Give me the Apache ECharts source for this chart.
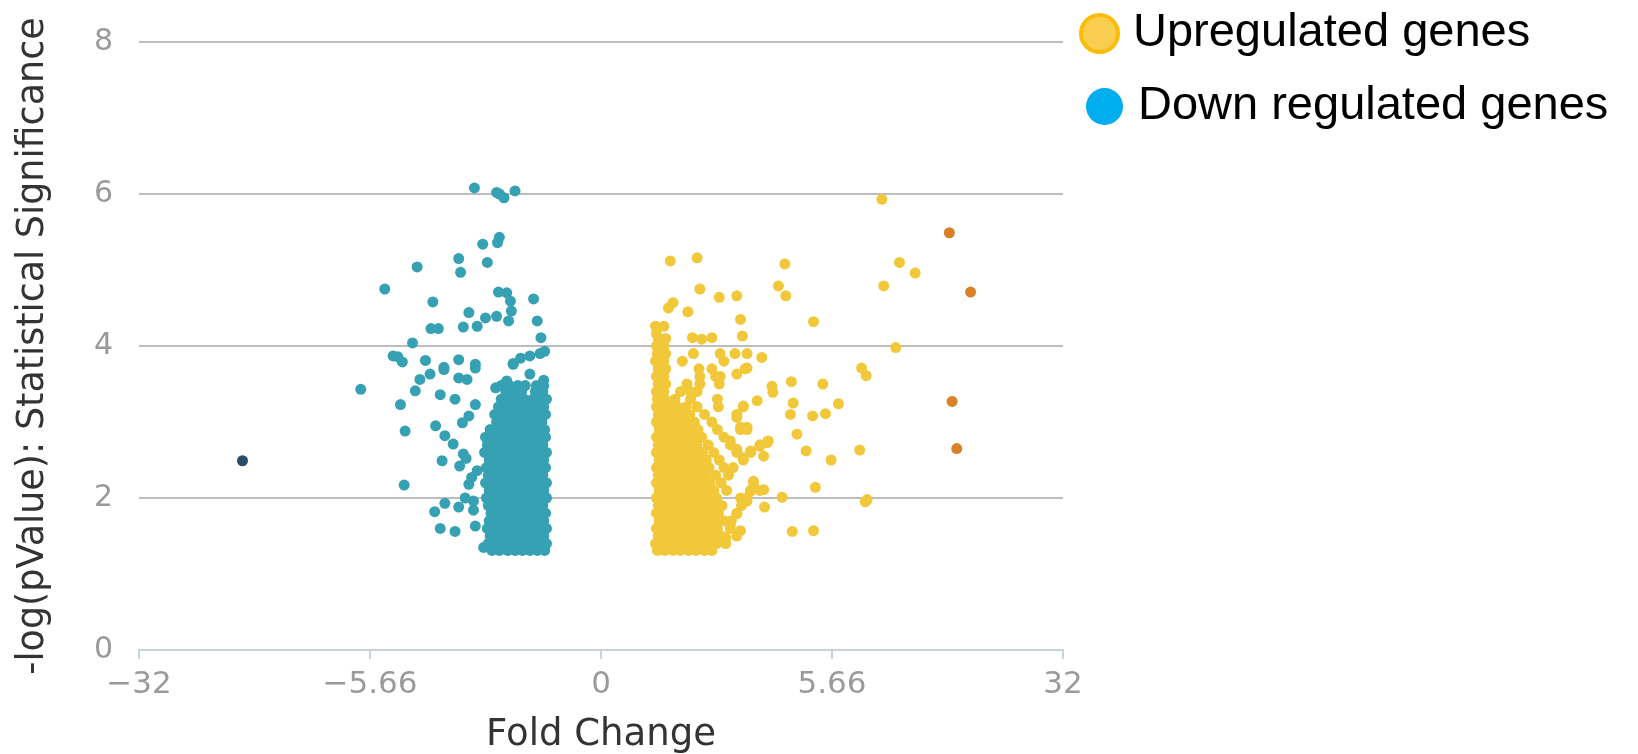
<!DOCTYPE html>
<html>
<head>
<meta charset="utf-8">
<script src="https://cdn.jsdelivr.net/npm/echarts@6/dist/echarts.min.js"></script>
<style>
  html, body { margin: 0; padding: 0; background: #ffffff; }
  #chart { width: 1638px; height: 754px; }
</style>
</head>
<body>
<div id="chart"></div>
<script>
// Volcano plot: x = log2 fold change, y = -log10(p-value).

// Tick positions (log2 units) and their fold-change labels
const foldTicks = [-5, -2.5, 0, 2.5, 5];
const foldTickLabels = ['\u221232', '\u22125.66', '0', '5.66', '32'];
const sigTicks = [0, 2, 4, 6, 8];

// Dense core of down-regulated genes, one row per significance level: [y, [x, ...]]
const downCoreRows = [
  [1.31, [-1.18, -1.10, -1.01, -0.93, -0.85, -0.77, -0.69, -0.61]],
  [1.40, [-1.22, -1.14, -1.05, -0.97, -0.89, -0.80, -0.72, -0.64, -0.59]],
  [1.50, [-1.20, -1.11, -1.03, -0.94, -0.86, -0.78, -0.70, -0.62]],
  [1.60, [-1.23, -1.15, -1.07, -0.98, -0.90, -0.81, -0.73, -0.65, -0.59]],
  [1.70, [-1.21, -1.12, -1.04, -0.95, -0.87, -0.79, -0.70, -0.62]],
  [1.80, [-1.19, -1.10, -1.02, -0.93, -0.85, -0.76, -0.68, -0.60]],
  [1.90, [-1.22, -1.14, -1.05, -0.97, -0.88, -0.80, -0.72, -0.63]],
  [2.00, [-1.24, -1.16, -1.07, -0.99, -0.90, -0.82, -0.74, -0.66, -0.59]],
  [2.10, [-1.21, -1.12, -1.04, -0.95, -0.87, -0.78, -0.70, -0.62]],
  [2.20, [-1.25, -1.17, -1.09, -1.00, -0.92, -0.83, -0.75, -0.67, -0.59]],
  [2.30, [-1.22, -1.13, -1.05, -0.96, -0.88, -0.80, -0.71, -0.63]],
  [2.40, [-1.24, -1.16, -1.08, -0.99, -0.91, -0.82, -0.74, -0.66, -0.60]],
  [2.50, [-1.21, -1.13, -1.04, -0.96, -0.87, -0.79, -0.70, -0.62]],
  [2.60, [-1.26, -1.17, -1.09, -1.00, -0.92, -0.84, -0.75, -0.67, -0.59]],
  [2.70, [-1.23, -1.14, -1.06, -0.97, -0.89, -0.80, -0.72, -0.63]],
  [2.80, [-1.25, -1.16, -1.08, -0.99, -0.91, -0.82, -0.74, -0.66, -0.60]],
  [2.90, [-1.20, -1.12, -1.03, -0.95, -0.86, -0.78, -0.69, -0.61]],
  [3.00, [-1.13, -1.05, -0.96, -0.88, -0.79, -0.71, -0.64]],
  [3.10, [-1.15, -1.07, -0.98, -0.90, -0.81, -0.73, -0.66, -0.60]],
  [3.20, [-1.11, -1.02, -0.94, -0.85, -0.77, -0.69, -0.62]],
  [3.30, [-1.08, -0.99, -0.91, -0.83, -0.74, -0.65, -0.59]],
  [3.40, [-1.03, -0.95, -0.86, -0.71, -0.63]],
  [3.48, [-1.08, -0.99, -0.90, -0.82, -0.70, -0.62]]
];

// Scattered down-regulated genes: [log2 FC, -log10 p]
const downSpread = [
  [-1.37, 6.08], [-1.13, 6.02], [-1.10, 6.00], [-1.05, 5.95], [-0.93, 6.04],
  [-1.10, 5.43], [-1.12, 5.36], [-1.28, 5.34], [-1.54, 5.15], [-1.52, 4.97],
  [-1.23, 5.10], [-1.99, 5.04], [-2.34, 4.75], [-1.82, 4.58],
  [-1.11, 4.71], [-1.02, 4.70], [-0.98, 4.59], [-0.97, 4.46], [-1.00, 4.33],
  [-1.13, 4.39], [-1.25, 4.37], [-1.43, 4.44], [-1.34, 4.26], [-1.49, 4.25],
  [-1.84, 4.23], [-1.76, 4.23], [-0.73, 4.62], [-0.69, 4.33], [-0.65, 4.11],
  [-2.04, 4.04], [-0.61, 3.93], [-2.25, 3.87], [-2.20, 3.86], [-2.15, 3.79],
  [-1.90, 3.81], [-1.54, 3.82], [-1.36, 3.76], [-1.70, 3.72], [-0.95, 3.77],
  [-0.87, 3.84], [-0.77, 3.87], [-0.66, 3.90],
  [-2.60, 3.43], [-2.17, 3.23], [-2.12, 2.88], [-2.13, 2.17], [-2.01, 3.41],
  [-1.96, 3.56], [-1.85, 3.63], [-1.74, 3.36], [-1.58, 3.30], [-1.70, 3.69],
  [-1.54, 3.58], [-1.45, 3.56], [-1.36, 3.71], [-1.36, 3.23], [-1.43, 3.08],
  [-1.50, 2.99], [-1.79, 2.95], [-1.69, 2.82], [-1.60, 2.71], [-1.49, 2.58],
  [-1.46, 2.52], [-1.72, 2.49], [-1.53, 2.42], [-1.34, 2.36], [-1.40, 2.27],
  [-1.43, 2.18], [-1.47, 2.00], [-1.38, 1.96], [-1.69, 1.93], [-1.80, 1.82],
  [-1.54, 1.88], [-1.38, 1.84], [-1.74, 1.60], [-1.58, 1.56], [-1.36, 1.63],
  [-1.27, 1.35], [-0.62, 3.55], [-1.14, 3.45], [-1.02, 3.54], [-0.95, 3.76],
  [-0.77, 3.63]
];

// Strongest down-regulated gene
const downExtreme = [[-3.88, 2.49]];

// Dense core of up-regulated genes, one row per significance level: [y, [x, ...]]
const upCoreRows = [
  [1.31, [0.61, 0.69, 0.78, 0.86, 0.95, 1.03, 1.12, 1.20]],
  [1.40, [0.59, 0.65, 0.74, 0.82, 0.91, 0.99, 1.08, 1.16, 1.25, 1.35]],
  [1.50, [0.62, 0.70, 0.79, 0.87, 0.96, 1.04, 1.13, 1.21, 1.30, 1.47]],
  [1.60, [0.60, 0.67, 0.75, 0.84, 0.92, 1.01, 1.09, 1.18, 1.26, 1.40]],
  [1.70, [0.63, 0.71, 0.80, 0.88, 0.97, 1.05, 1.14, 1.22, 1.33, 1.41]],
  [1.80, [0.60, 0.67, 0.76, 0.84, 0.93, 1.01, 1.10, 1.18, 1.27, 1.47]],
  [1.90, [0.62, 0.70, 0.79, 0.87, 0.96, 1.04, 1.13, 1.21, 1.31, 1.52]],
  [2.00, [0.60, 0.66, 0.75, 0.83, 0.92, 1.00, 1.09, 1.17, 1.25, 1.58]],
  [2.10, [0.63, 0.71, 0.80, 0.88, 0.97, 1.05, 1.14, 1.22, 1.36, 1.62, 1.72]],
  [2.20, [0.60, 0.67, 0.76, 0.84, 0.93, 1.01, 1.10, 1.18, 1.30, 1.65]],
  [2.30, [0.62, 0.70, 0.79, 0.87, 0.96, 1.04, 1.13, 1.24, 1.38]],
  [2.40, [0.60, 0.66, 0.75, 0.83, 0.92, 1.00, 1.09, 1.17, 1.33, 1.43]],
  [2.50, [0.63, 0.71, 0.80, 0.88, 0.97, 1.05, 1.14, 1.28, 1.54]],
  [2.60, [0.60, 0.67, 0.76, 0.84, 0.93, 1.01, 1.10, 1.22, 1.47, 1.62]],
  [2.70, [0.62, 0.70, 0.79, 0.87, 0.96, 1.04, 1.16, 1.40, 1.72]],
  [2.80, [0.60, 0.66, 0.75, 0.83, 0.92, 1.00, 1.09, 1.33]],
  [2.90, [0.63, 0.71, 0.80, 0.88, 0.97, 1.05, 1.26, 1.51, 1.58]],
  [3.00, [0.60, 0.67, 0.76, 0.84, 0.93, 1.01, 1.20]],
  [3.10, [0.62, 0.70, 0.79, 0.87, 0.96, 1.12, 1.47]],
  [3.20, [0.60, 0.66, 0.75, 0.83, 0.92, 1.04, 1.27, 1.54]],
  [3.30, [0.61, 0.69, 0.80, 0.97, 1.26]],
  [3.40, [0.60, 0.68, 0.86, 0.97, 1.04]],
  [3.50, [0.62, 0.70, 0.93, 1.07, 1.28]],
  [3.60, [0.60, 0.68, 1.07, 1.24, 1.29]],
  [3.70, [0.62, 0.70, 1.06, 1.20, 1.56]],
  [3.80, [0.59, 0.68, 0.88, 1.33]],
  [3.90, [0.61, 0.70, 1.00, 1.29, 1.45, 1.58]],
  [4.00, [0.60, 0.68]],
  [4.10, [0.62, 0.70]],
  [4.16, [0.60]]
];

// Scattered up-regulated genes: [log2 FC, -log10 p]
const upSpread = [
  [0.75, 5.12], [1.04, 5.16], [1.99, 5.08], [1.07, 4.75], [1.28, 4.64],
  [1.47, 4.66], [1.92, 4.79], [2.00, 4.66], [0.78, 4.57], [0.73, 4.50],
  [0.94, 4.45], [1.51, 4.35], [0.59, 4.26], [0.68, 4.26], [2.30, 4.32],
  [0.99, 4.11], [1.09, 4.09], [1.20, 4.11], [1.53, 4.13], [1.74, 3.85],
  [1.58, 3.71], [1.47, 3.63], [1.85, 3.47], [1.86, 3.39], [2.06, 3.53],
  [2.40, 3.50], [1.69, 3.28], [1.54, 3.21], [2.08, 3.25], [2.05, 3.10],
  [2.29, 3.08], [2.43, 3.11], [2.57, 3.24], [2.12, 2.84], [2.22, 2.62],
  [2.49, 2.50], [2.80, 2.63], [1.80, 2.73], [1.76, 2.55], [2.32, 2.14],
  [1.96, 2.01], [1.77, 1.88], [1.76, 2.11], [2.88, 1.98], [2.86, 1.95],
  [2.07, 1.56], [2.30, 1.57], [2.82, 3.71], [2.87, 3.61], [3.19, 3.98],
  [3.06, 4.79], [3.23, 5.10], [3.40, 4.96], [3.04, 5.93],
  [1.47, 3.06], [1.51, 2.93], [1.58, 2.93], [1.81, 2.75], [1.72, 2.68],
  [1.62, 2.62], [1.47, 2.64], [1.54, 2.53], [1.40, 2.75], [1.65, 2.22],
  [1.62, 2.09], [1.51, 2.00], [1.58, 1.96], [1.47, 1.79], [1.40, 1.65],
  [1.51, 1.57], [1.35, 1.48]
];

// Strongest up-regulated genes
const upExtreme = [[3.77, 5.49], [4.00, 4.71], [3.80, 3.27], [3.85, 2.65]];

const COLOR_DOWN = '#37a1b4';
const COLOR_DOWN_EXTREME = '#2c4c6b';
const COLOR_UP = '#f2c83b';
const COLOR_UP_EXTREME = '#d98128';

function fromRows(rows) {
  const out = [];
  rows.forEach(function (row) {
    row[1].forEach(function (x) { out.push([x, row[0]]); });
  });
  return out;
}

function withColor(points, color) {
  return points.map(function (p) {
    return { value: p, itemStyle: { color: color } };
  });
}

const downData = fromRows(downCoreRows).concat(downSpread)
  .map(function (p) { return { value: p }; })
  .concat(withColor(downExtreme, COLOR_DOWN_EXTREME));

const upData = fromRows(upCoreRows).concat(upSpread)
  .map(function (p) { return { value: p }; })
  .concat(withColor(upExtreme, COLOR_UP_EXTREME));

const chart = echarts.init(document.getElementById('chart'), null, { renderer: 'canvas' });

const legendText = {
  fontFamily: '"Liberation Sans", Arial, sans-serif',
  fontSize: 47,
  color: '#000000',
  padding: [0, 0, 0, 10]
};

const tickFont = '"DejaVu Sans", sans-serif';

chart.setOption({
  animation: false,
  backgroundColor: '#ffffff',
  grid: {
    left: 139, right: 575, top: 42, bottom: 104,
    containLabel: false,
    outerBoundsMode: 'none'
  },
  legend: [
    {
      left: 1074, top: 5,
      itemWidth: 37, itemHeight: 37,
      selectedMode: false,
      textStyle: legendText,
      data: [{
        name: 'Upregulated genes', icon: 'circle',
        itemStyle: { color: '#f9cd50', borderColor: '#fbbc05', borderWidth: 4 }
      }]
    },
    {
      left: 1081, top: 78,
      itemWidth: 37, itemHeight: 37,
      selectedMode: false,
      textStyle: legendText,
      data: [{
        name: 'Down regulated genes', icon: 'circle',
        itemStyle: { color: '#00adef', borderWidth: 0 }
      }]
    }
  ],
  xAxis: {
    type: 'value',
    min: foldTicks[0],
    max: foldTicks[foldTicks.length - 1],
    interval: foldTicks[1] - foldTicks[0],
    name: 'Fold Change',
    nameLocation: 'middle',
    nameGap: 67,
    nameTextStyle: { fontFamily: tickFont, fontSize: 37, color: '#333333' },
    axisLine: { show: true, lineStyle: { color: '#c6d3df', width: 2 } },
    axisTick: { show: true, inside: false, length: 9, lineStyle: { color: '#c6d3df', width: 2 } },
    splitLine: { show: false },
    axisLabel: {
      margin: 19,
      fontFamily: tickFont,
      fontSize: 31,
      color: '#9a9a9a',
      formatter: function (v) {
        const i = foldTicks.indexOf(v);
        return i >= 0 ? foldTickLabels[i] : '';
      }
    }
  },
  yAxis: {
    type: 'value',
    min: sigTicks[0],
    max: sigTicks[sigTicks.length - 1],
    interval: sigTicks[1] - sigTicks[0],
    name: '-log(pValue): Statistical Significance',
    nameLocation: 'middle',
    nameGap: 87,
    nameTextStyle: { fontFamily: tickFont, fontSize: 36.5, color: '#333333' },
    axisLine: { show: false },
    axisTick: { show: false },
    splitLine: { show: true, lineStyle: { color: '#bdbdbd', width: 2 } },
    axisLabel: {
      margin: 26,
      fontFamily: tickFont,
      fontSize: 30,
      color: '#9a9a9a'
    }
  },
  series: [
    {
      name: 'Down regulated genes',
      type: 'scatter',
      symbol: 'circle',
      symbolSize: 11,
      itemStyle: { color: COLOR_DOWN, opacity: 1 },
      emphasis: { disabled: true },
      data: downData
    },
    {
      name: 'Upregulated genes',
      type: 'scatter',
      symbol: 'circle',
      symbolSize: 11,
      itemStyle: { color: COLOR_UP, opacity: 1 },
      emphasis: { disabled: true },
      data: upData
    }
  ]
});
</script>
</body>
</html>
